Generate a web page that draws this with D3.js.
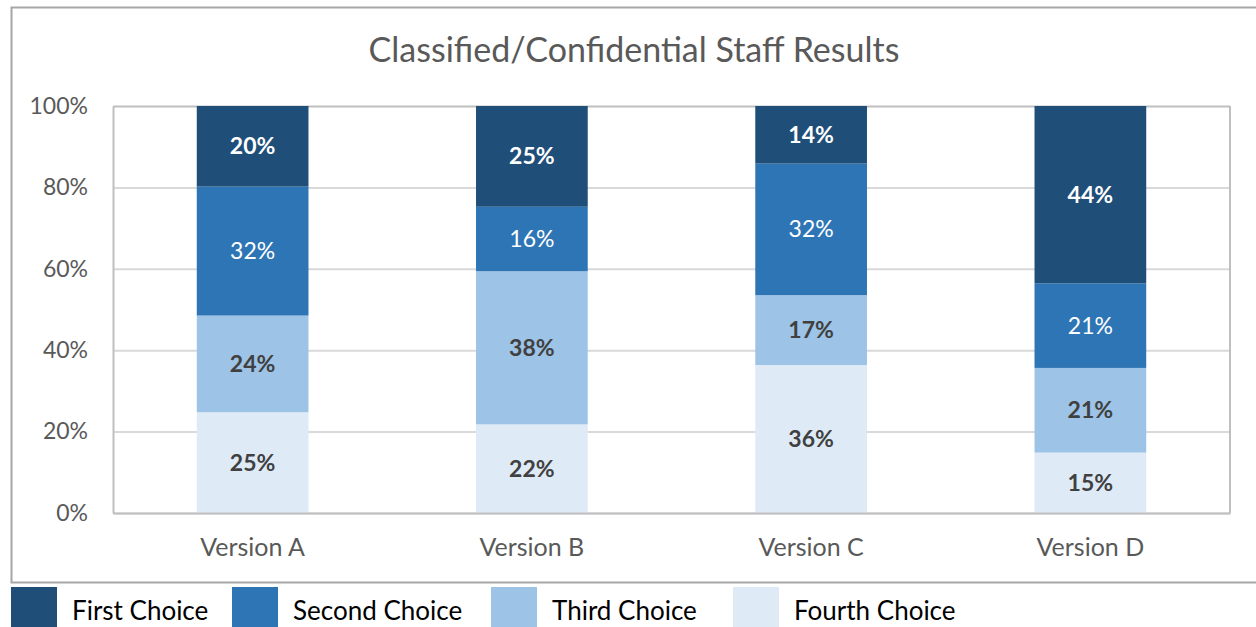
<!DOCTYPE html>
<html>
<head>
<meta charset="utf-8">
<script src="https://cdn.jsdelivr.net/npm/d3@7"></script>
<style>
  body { margin: 0; background: #fff; }
  svg { display: block; font-family: Lato, "Open Sans", sans-serif; }
</style>
</head>
<body>
<svg id="chart" width="1256" height="627"></svg>
<script>
var versions = ["Version A", "Version B", "Version C", "Version D"];
var choices = ["First Choice", "Second Choice", "Third Choice", "Fourth Choice"];
var firstChoice = [20, 25, 14, 44];
var secondChoice = [32, 16, 32, 21];
var thirdChoice = [24, 38, 17, 21];
var fourthChoice = [25, 22, 36, 15];
var yTicks = [0, 0.2, 0.4, 0.6, 0.8, 1];
var colours = ["#1f4e79", "#2e75b6", "#9dc3e6", "#deebf7"];

var rows = versions.map(function(v, i) {
    return {
        version: v,
        "First Choice": firstChoice[i],
        "Second Choice": secondChoice[i],
        "Third Choice": thirdChoice[i],
        "Fourth Choice": fourthChoice[i]
    };
});

var svg = d3.select("#chart");
var plot = {left: 113, right: 1230, top: 106, bottom: 513};

// outer chart border
svg.append("rect")
    .attr("x", 11.5).attr("y", 7.5)
    .attr("width", 1246).attr("height", 575)
    .attr("fill", "none").attr("stroke", "#a6a6a6").attr("stroke-width", 2);

svg.append("text")
    .attr("x", 634).attr("y", 62)
    .attr("text-anchor", "middle")
    .attr("fill", "#595959")
    .style("font-size", "34px")
    .text("Classified/Confidential Staff Results");

var x = d3.scaleBand().domain(versions).range([plot.left, plot.right]).paddingInner(0.6).paddingOuter(0.3);
var y = d3.scaleLinear().domain([0, 1]).range([plot.bottom, plot.top]);

// gridlines
svg.append("g")
    .selectAll("line")
    .data(yTicks)
    .join("line")
    .attr("x1", plot.left).attr("x2", plot.right)
    .attr("y1", function(d) { return y(d) + 0.5; })
    .attr("y2", function(d) { return y(d) + 0.5; })
    .attr("stroke", function(d) { return d == 1 ? "#bfbfbf" : "#d9d9d9"; })
    .attr("stroke-width", 2);

svg.append("line")
    .attr("x1", plot.right).attr("x2", plot.right)
    .attr("y1", plot.top).attr("y2", plot.bottom)
    .attr("stroke", "#bfbfbf").attr("stroke-width", 2);

// stack in bottom-up order
var stack = d3.stack().keys(choices.slice().reverse()).offset(d3.stackOffsetExpand);
var series = stack(rows);

var layers = svg.append("g")
    .selectAll("g")
    .data(series)
    .join("g")
    .attr("fill", function(d) { return colours[choices.indexOf(d.key)]; });

layers.selectAll("rect")
    .data(function(d) { return d; })
    .join("rect")
    .attr("x", function(d) { return x(d.data.version); })
    .attr("width", x.bandwidth())
    .attr("y", function(d) { return y(d[1]); })
    .attr("height", function(d) { return y(d[0]) - y(d[1]); });

layers.each(function(s) {
    var idx = choices.indexOf(s.key);
    d3.select(this).selectAll("text")
        .data(s)
        .join("text")
        .attr("x", function(d) { return x(d.data.version) + x.bandwidth() / 2; })
        .attr("y", function(d) { return (y(d[0]) + y(d[1])) / 2; })
        .attr("dy", "0.35em")
        .attr("text-anchor", "middle")
        .attr("fill", idx < 2 ? "#ffffff" : "#404040")
        .style("font-weight", idx == 1 ? "normal" : "bold")
        .style("font-size", "23px")
        .text(function(d) { return d.data[s.key] + "%"; });
});

// axes
var yAxis = svg.append("g")
    .attr("transform", "translate(" + plot.left + ",0)")
    .call(d3.axisLeft(y).tickValues(yTicks).tickFormat(d3.format(".0%")).tickSize(0).tickPadding(25));
yAxis.select(".domain").attr("stroke", "#bfbfbf").attr("stroke-width", 2);
yAxis.selectAll("text").attr("fill", "#595959").style("font-size", "23px").style("font-family", "Lato, 'Open Sans', sans-serif");

var xAxis = svg.append("g")
    .attr("transform", "translate(0," + plot.bottom + ")")
    .call(d3.axisBottom(x).tickSize(0).tickPadding(25));
xAxis.select(".domain").attr("stroke", "#bfbfbf").attr("stroke-width", 2);
xAxis.selectAll("text").attr("fill", "#595959").style("font-size", "25px").style("font-family", "Lato, 'Open Sans', sans-serif");

// legend
var legendX = [11, 232, 491, 733];
var legend = svg.append("g")
    .selectAll("g")
    .data(choices)
    .join("g")
    .attr("transform", function(d, i) { return "translate(" + legendX[i] + ",587)"; });

legend.append("rect")
    .attr("width", 46).attr("height", 41)
    .attr("fill", function(d, i) { return colours[i]; });

legend.append("text")
    .attr("x", 61).attr("y", 24)
    .attr("dy", "0.35em")
    .attr("fill", "#000")
    .style("font-size", "26px")
    .text(function(d) { return d; });
</script>
</body>
</html>
